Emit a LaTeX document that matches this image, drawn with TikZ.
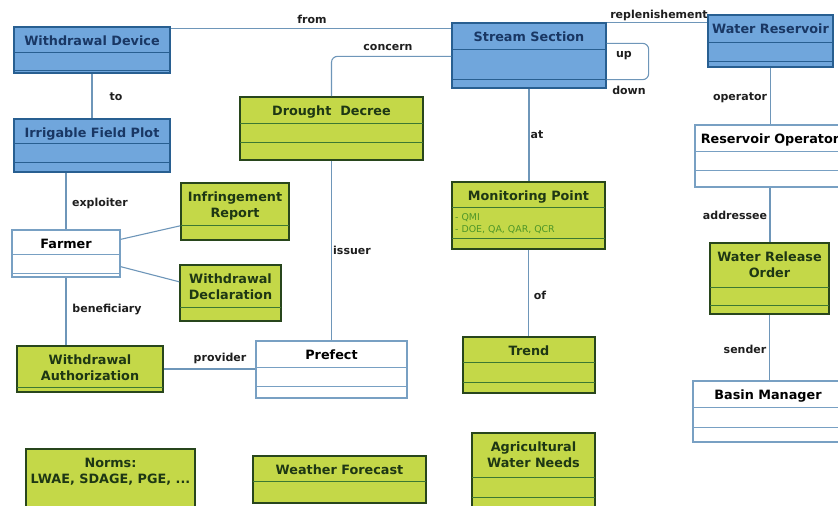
\documentclass[tikz,border=0pt]{standalone}
\usepackage{fontspec}
\setmainfont{DejaVu Sans}
\usetikzlibrary{calc}

\definecolor{blueFill}{RGB}{112,166,220}
\definecolor{blueDraw}{RGB}{40,95,145}
\definecolor{blueText}{RGB}{25,55,100}
\definecolor{greenFill}{RGB}{196,216,72}
\definecolor{greenDraw}{RGB}{40,70,28}
\definecolor{greenLine}{RGB}{60,120,50}
\definecolor{greenText}{RGB}{30,55,20}
\definecolor{attrText}{RGB}{78,150,40}
\definecolor{whiteDraw}{RGB}{120,160,195}
\definecolor{linkColor}{RGB}{110,150,185}
\definecolor{roleText}{RGB}{30,30,30}

\newcommand{\umltitlefont}{\fontsize{12.8}{16}\bfseries\selectfont}
\newcommand{\umlrolefont}{\fontsize{11}{13}\bfseries\selectfont}
\newcommand{\umlattrfont}{\fontsize{9.4}{12}\selectfont}

\tikzset{
  bluebox/.style={draw=blueDraw, fill=blueFill, line width=1.3pt, inner sep=0pt},
  bluebox line/.style={draw=blueDraw, line width=1pt},
  bluebox text/.style={anchor=north, inner sep=0pt, align=center, text=blueText, font=\umltitlefont},
  greenbox/.style={draw=greenDraw, fill=greenFill, line width=1.6pt, inner sep=0pt},
  greenbox line/.style={draw=greenLine, line width=0.9pt},
  greenbox text/.style={anchor=north, inner sep=0pt, align=center, text=greenText, font=\umltitlefont},
  whitebox/.style={draw=whiteDraw, fill=white, line width=1.3pt, inner sep=0pt},
  whitebox line/.style={draw=whiteDraw, line width=1pt},
  whitebox text/.style={anchor=north, inner sep=0pt, align=center, text=black, font=\umltitlefont},
  link/.style={draw=linkColor, line width=1.1pt},
  role/.style={inner sep=1pt, text=roleText, font=\umlrolefont},
  attr/.style={anchor=base west, inner sep=0pt, text=attrText, font=\umlattrfont}
}

% class box: style, name, top left, bottom right, dividers, title
\def\umlclass[#1](#2)(#3,#4)(#5,#6)#7#8{%
  \node[#1, minimum width={#5-#3}, minimum height={#6-#4}] (#2) at ({(#3+#5)/2},{(#4+#6)/2}) {};
  \foreach \yy in {#7} {\draw[#1 line] (#3,\yy) -- (#5,\yy);}
  \node[#1 text] (#2-title) at ({(#3+#5)/2},{#4+8.8}) {#8};
}

\begin{document}
\begin{tikzpicture}[x=1pt, y=-1pt]
  %%%%% START %%%%%
  \clip (0,0) rectangle (838,506);
  \fill[white] (0,0) rectangle (838,506);

  \umlclass[bluebox](wd)(14,27)(170,73){52,70}{Withdrawal Device}
  \umlclass[bluebox](ifp)(14,119)(170,172){143,162}{Irrigable Field Plot}
  \umlclass[bluebox](ss)(452,23)(606,88){49,79}{Stream Section}
  \umlclass[bluebox](wr)(708,15)(833,67){42,61}{Water Reservoir}

  \umlclass[greenbox](dd)(240,97)(423,160){123,142}{Drought\ \ Decree}
  \umlclass[greenbox](mp)(452,182)(605,249){207,238}{Monitoring Point}
  \umlclass[greenbox](tr)(463,337)(595,393){362,382}{Trend}
  \umlclass[greenbox](wro)(710,243)(829,314){287,305}{Water Release\\Order}
  \umlclass[greenbox](ir)(181,183)(289,240){225}{Infringement\\Report}
  \umlclass[greenbox](wdec)(180,265)(281,321){307}{Withdrawal\\Declaration}
  \umlclass[greenbox](wa)(17,346)(163,392){387}{Withdrawal\\Authorization}
  \umlclass[greenbox](no)(26,449)(195,530){520}{Norms:\\LWAE, SDAGE, PGE, ...}
  \umlclass[greenbox](wf)(253,456)(426,503){481}{Weather Forecast}
  \umlclass[greenbox](awn)(472,433)(595,530){477,497}{Agricultural\\Water Needs}

  \umlclass[whitebox](ro)(695,125)(845,187){151,170}{Reservoir Operator}
  \umlclass[whitebox](bm)(693,381)(843,442){407,427}{Basin Manager}
  \umlclass[whitebox](fa)(12,230)(120,277){254,273}{Farmer}
  \umlclass[whitebox](pr)(256,341)(407,398){367,386}{Prefect}

  \node[attr] (mp-qmi) at (455,220) {- QMI};
  \node[attr] (mp-doe) at (455,232.5) {- DOE, QA, QAR, QCR};

  % associations
  \coordinate (from-start) at ($(wd.north east)+(0,2)$);
  \draw[link] (from-start) -- (from-start -| ss.west);
  \draw[link, rounded corners=6pt] (dd.north) |- ($(ss.north west)+(0,34)$);
  \draw[link, rounded corners=6pt] ($(ss.north east)+(0,21)$) -- ++(42,0) |- ($(ss.south east)+(0,-9)$);
  \draw[link] (ss.north east) -- (ss.north east -| wr.west);
  \draw[link] (wd) -- (ifp);
  \draw[link] (fa.north) -- (fa.north |- ifp.south);
  \draw[link] ($(fa.north east)+(0,10)$) -- ($(ir.south west)+(0,-15)$);
  \draw[link] ($(fa.south east)+(0,-11)$) -- ($(wdec.south west)+(0,-40)$);
  \draw[link] (fa.south) -- (fa.south |- wa.north);
  \draw[link] (wa.east) -- (wa.east -| pr.west);
  \draw[link] (dd) -- (pr);
  \draw[link] (ss.south) -- (ss.south |- mp.north);
  \draw[link] (mp.south) -- (mp.south |- tr.north);
  \draw[link] (wr.south) -- (wr.south |- ro.north);
  \draw[link] (ro.south) -- (ro.south |- wro.north);
  \draw[link] (wro.south) -- (wro.south |- bm.north);

  % role names
  \node[role] (from-lbl) at (312,19) {from};
  \node[role] (concern-lbl) at (388,47) {concern};
  \node[role] (up-lbl) at (624,56) {up};
  \node[role] (down-lbl) at (629,90) {down};
  \node[role] (repl-lbl) at (659,15) {replenishement};
  \node[role] (to-lbl) at (116,97) {to};
  \node[role] (expl-lbl) at (100,203) {exploiter};
  \node[role] (bene-lbl) at (107,310) {beneficiary};
  \node[role] (prov-lbl) at (220,358) {provider};
  \node[role] (issuer-lbl) at (352,250) {issuer};
  \node[role] (at-lbl) at (537,135) {at};
  \node[role] (of-lbl) at (540,295) {of};
  \node[role] (oper-lbl) at (740,98) {operator};
  \node[role] (addr-lbl) at (735,215) {addressee};
  \node[role] (send-lbl) at (745,349) {sender};
  %%%%% END %%%%%
\end{tikzpicture}
\end{document}
